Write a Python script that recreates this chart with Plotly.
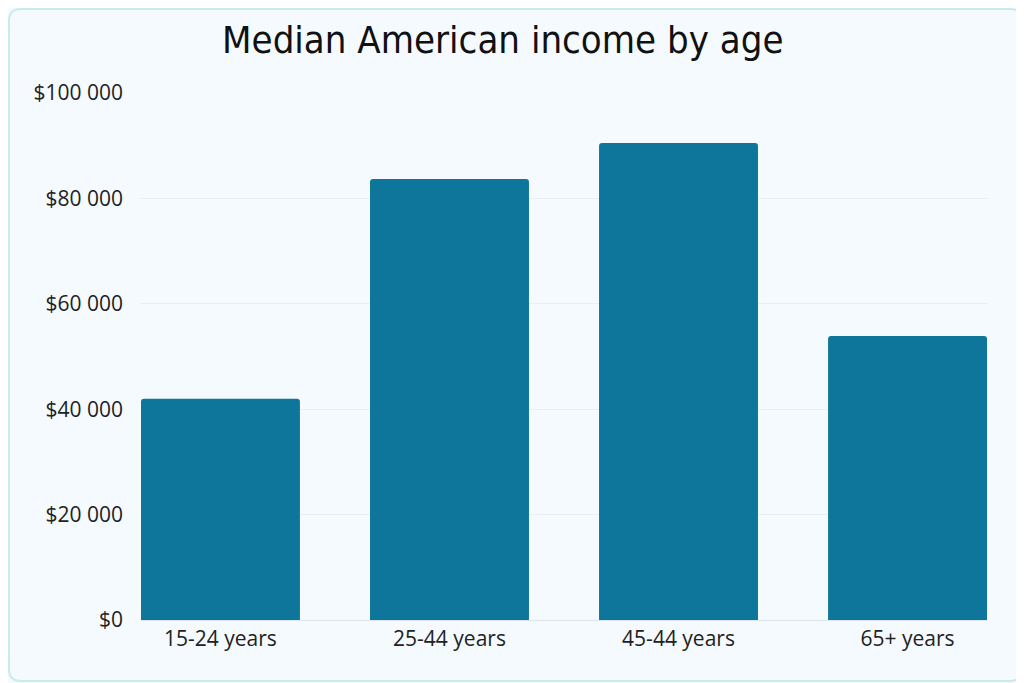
import plotly.graph_objects as go

# datos
AGE_GROUPS = ['15-24 years', '25-44 years', '45-44 years', '65+ years']
MEDIAN_INCOME = [42000, 83700, 90500, 53900]
Y_TICKS = [0, 20000, 40000, 60000, 80000, 100000]
Y_TICK_LABELS = ['$0', '$20 000', '$40 000', '$60 000', '$80 000', '$100 000']

# la página tiene 8 px de margen en body: la figura ocupa la ventana menos eso
W, H = 1016, 675
M = dict(l=133, r=37, t=85, b=63)
BAR_COLOR = '#0e769b'
BG = '#f5fafe'

pw = W - M['l'] - M['r']
ph = H - M['t'] - M['b']


def rounded_rect_path(x0, y0, x1, y1, r):
    # rectángulo redondeado en coordenadas de papel (r en px)
    rx, ry = r / pw, r / ph
    return (f'M{x0 + rx},{y0} L{x1 - rx},{y0} Q{x1},{y0} {x1},{y0 + ry} '
            f'L{x1},{y1 - ry} Q{x1},{y1} {x1 - rx},{y1} '
            f'L{x0 + rx},{y1} Q{x0},{y1} {x0},{y1 - ry} '
            f'L{x0},{y0 + ry} Q{x0},{y0} {x0 + rx},{y0} Z')


px0 = (1 - M['l']) / pw
px1 = (W - 2 - M['l']) / pw
py0 = -(M['b'] - 2) / ph
py1 = (H - 1 - M['b']) / ph

fig = go.Figure(go.Bar(
    x=AGE_GROUPS,
    y=MEDIAN_INCOME,
    marker=dict(color=BAR_COLOR, cornerradius=3, line_width=0),
    width=0.694,
    hovertemplate='%{x}: $%{y:,.0f}<extra></extra>',
))

fig.update_layout(
    width=W, height=H,
    margin=M,
    paper_bgcolor=BG,
    plot_bgcolor=BG,
    title=dict(
        text='Median American income by age',
        x=0.487, xanchor='center', y=0.953, yanchor='middle',
        font=dict(family='DejaVu Sans Condensed', size=38, color='#111111'),
    ),
    font=dict(family='Open Sans', size=21, color='#222222'),
    xaxis=dict(
        range=[-0.347, 3.347],
        showgrid=False,
        showline=True, linecolor='#dde6ee', linewidth=1,
        ticks='', tickfont=dict(size=21, color='#222222'),
    ),
    yaxis=dict(
        range=[0, 100000],
        tickvals=Y_TICKS, ticktext=Y_TICK_LABELS,
        showgrid=True, gridcolor='#e8eef4', gridwidth=1,
        zeroline=False, ticks='', ticklabelstandoff=17,
        tickfont=dict(size=21, color='#222222'),
    ),
    shapes=[dict(
        type='path', xref='paper', yref='paper',
        path=rounded_rect_path(px0, py0, px1, py1, 12),
        line=dict(color='#c8ecea', width=2),
        layer='below',
    )],
    showlegend=False,
)

fig.write_html('out.html')
